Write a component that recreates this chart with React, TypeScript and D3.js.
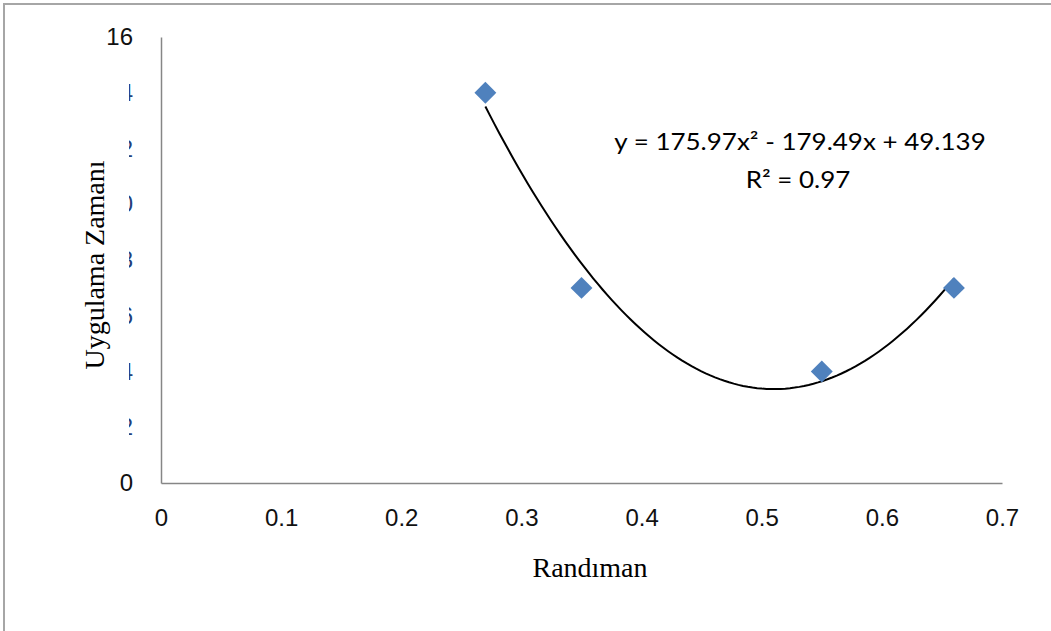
import React, { useEffect, useRef } from "react";
import * as d3 from "d3";

const xValues = [0.27, 0.35, 0.55, 0.66];
const yValues = [14, 7, 4, 7];
const xTicks = [0, 0.1, 0.2, 0.3, 0.4, 0.5, 0.6, 0.7];
const yTicks = [0, 2, 4, 6, 8, 10, 12, 14, 16];
// polynomial trendline as printed on the chart: a*x^2 + b*x + c
const trendCoefs = [175.97, -179.49, 49.139];
const trendLabel = "y = 175.97x\u00b2 - 179.49x + 49.139";
const r2Label = "R\u00b2 = 0.97";

const W = 1051;
const H = 631;

export default function App() {
  const svgRef = useRef<SVGSVGElement>(null);

  useEffect(() => {
    const svg = d3.select(svgRef.current);
    svg.selectAll("*").remove();

    const x = d3.scaleLinear().domain([0, 0.7]).range([161, 1002]);
    const y = d3.scaleLinear().domain([0, 16]).range([483, 37]);

    // outer frame (only top/left visible)
    svg.append("path")
      .attr("d", `M4,${H} L4,4 L${W},4`)
      .attr("fill", "none")
      .attr("stroke", "#a6a6a6")
      .attr("stroke-width", 2);

    // axes
    const xAxis = svg.append("g")
      .attr("transform", `translate(0, ${y(0)})`)
      .call(d3.axisBottom(x).tickValues(xTicks).tickSize(0).tickPadding(26).tickFormat(d3.format("")));
    xAxis.select(".domain").attr("stroke", "#868686").attr("stroke-width", 1.5);
    xAxis.selectAll("text")
      .attr("font-family", "'Liberation Sans', sans-serif")
      .attr("font-size", 24)
      .attr("fill", "#111");

    const yAxis = svg.append("g")
      .attr("transform", `translate(${x(0)}, 0)`)
      .call(d3.axisLeft(y).tickValues(yTicks).tickSize(0).tickPadding(28).tickFormat(d3.format("")));
    yAxis.select(".domain").attr("stroke", "#868686").attr("stroke-width", 1.5);
    yAxis.selectAll("text")
      .attr("font-family", "'Liberation Sans', sans-serif")
      .attr("font-size", 24)
      .attr("fill", (d: any) => (d === 0 || d === 16 ? "#111" : "#24407a"));

    // the axis title box hides most of the inner tick labels
    svg.append("rect")
      .attr("x", 60)
      .attr("y", 55)
      .attr("width", 69)
      .attr("height", 405)
      .attr("fill", "#fff");

    svg.append("text")
      .attr("transform", `translate(104, 265) rotate(-90)`)
      .attr("text-anchor", "middle")
      .attr("font-family", "'Liberation Serif', serif")
      .attr("font-size", 28)
      .attr("fill", "#000")
      .text("Uygulama Zamanı");

    svg.append("text")
      .attr("x", 590)
      .attr("y", 577)
      .attr("text-anchor", "middle")
      .attr("font-family", "'Liberation Serif', serif")
      .attr("font-size", 28)
      .attr("fill", "#000")
      .text("Randıman");

    // trendline
    const [a, b, c] = trendCoefs;
    const x0 = d3.min(xValues) as number;
    const x1 = d3.max(xValues) as number;
    const curve = d3.range(0, 101).map(i => {
      const t = x0 + (x1 - x0) * i / 100;
      return [t, a * t * t + b * t + c] as [number, number];
    });
    svg.append("path")
      .datum(curve)
      .attr("d", d3.line<[number, number]>().x(d => x(d[0])).y(d => y(d[1])))
      .attr("fill", "none")
      .attr("stroke", "#000")
      .attr("stroke-width", 2);

    // points
    const pts = xValues.map((v, i) => ({ x: v, y: yValues[i] }));
    svg.selectAll("path.pt")
      .data(pts)
      .join("path")
      .attr("class", "pt")
      .attr("d", d3.symbol().type(d3.symbolSquare).size(240)())
      .attr("transform", d => `translate(${x(d.x)}, ${y(d.y)}) rotate(45)`)
      .attr("fill", "#4f81bd");

    // equation labels
    [trendLabel, r2Label].forEach((s, i) => {
      svg.append("text")
        .attr("transform", `translate(${i ? 798 : 800}, ${150 + i * 38}) scale(1.13, 1)`)
        .attr("text-anchor", "middle")
        .attr("font-family", "Lato, 'Open Sans', sans-serif")
        .attr("font-size", 23)
        .attr("fill", "#000")
        .text(s);
    });
  }, []);

  return (
    <svg
      ref={svgRef}
      width={W}
      height={H}
      style={{ position: "absolute", left: 0, top: 0, background: "#fff" }}
    />
  );
}
